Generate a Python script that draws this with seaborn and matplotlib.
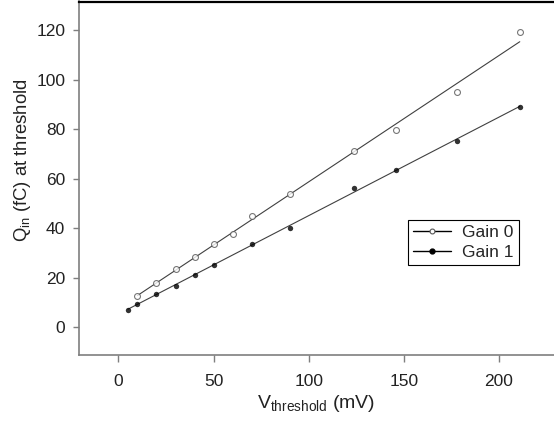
import numpy as np
import seaborn as sns
import matplotlib.pyplot as plt
from matplotlib.lines import Line2D

sns.set_style('white')
plt.rcParams['font.family'] = ['Liberation Sans', 'DejaVu Sans']
plt.rcParams['mathtext.fontset'] = 'custom'
plt.rcParams['mathtext.rm'] = 'Liberation Sans'
plt.rcParams['mathtext.it'] = 'Liberation Sans'

# data
vthr_gain0 = [10, 20, 30, 40, 50, 60, 70, 90, 124, 146, 178, 211]
qin_gain0 = [12.6, 17.7, 23.6, 28.2, 33.6, 37.8, 44.9, 53.6, 71.2, 79.7, 94.8, 119.3]
vthr_gain1 = [5, 10, 20, 30, 40, 50, 70, 90, 124, 146, 178, 211]
qin_gain1 = [7.1, 9.4, 13.4, 16.8, 21.1, 25.2, 33.6, 40.0, 56.4, 63.3, 75.3, 89.1]

spine_gray = '#7f7f7f'
line_col = '#404040'
text_col = '#222222'

fig = plt.figure(figsize=(5.54, 4.22), dpi=100)
ax = fig.add_axes([78.5 / 554, (422 - 354.5) / 422, 1 - 78.5 / 554, (354.5 - 1.5) / 422])

sns.regplot(x=np.array(vthr_gain0), y=np.array(qin_gain0), ax=ax, ci=None,
            scatter_kws=dict(s=18, facecolor='white', edgecolor='#555555',
                             linewidths=0.8, zorder=3),
            line_kws=dict(color=line_col, lw=0.8, zorder=2))
sns.regplot(x=np.array(vthr_gain1), y=np.array(qin_gain1), ax=ax, ci=None,
            scatter_kws=dict(s=15, color='black', linewidths=0, zorder=3),
            line_kws=dict(color=line_col, lw=0.8, zorder=2))

ax.set_xlim(-21, 229)
ax.set_ylim(-11, 131.5)
ax.set_xticks([0, 50, 100, 150, 200])
ax.set_yticks([0, 20, 40, 60, 80, 100, 120])

for side in ['left', 'bottom']:
    ax.spines[side].set_color(spine_gray)
    ax.spines[side].set_linewidth(1.2)
ax.spines['top'].set_color('black')
ax.spines['top'].set_linewidth(1.6)
ax.spines['right'].set_visible(False)

ax.tick_params(axis='both', direction='out', width=1, color=spine_gray,
               labelsize=12.5, labelcolor=text_col)
ax.tick_params(axis='x', bottom=True, length=5, pad=9)
ax.tick_params(axis='y', left=True, length=4.5, pad=5)

ax.set_xlabel(r'V$_{\mathregular{threshold}}$ (mV)', fontsize=14,
              color=text_col, labelpad=3)
ax.set_ylabel(r'Q$_{\mathregular{in}}$ (fC) at threshold', fontsize=13.3,
              color=text_col)
ax.yaxis.set_label_coords(-0.096, 0.55)

handles = [
    Line2D([0], [0], color='black', lw=1, marker='o', markersize=3.5,
           markerfacecolor='white', markeredgecolor='#555555', markeredgewidth=0.8),
    Line2D([0], [0], color='black', lw=1, marker='o', markersize=3.5,
           markerfacecolor='black', markeredgecolor='black'),
]
leg = ax.legend(handles, ['Gain 0', 'Gain 1'], loc='upper left',
                bbox_to_anchor=(408 / 554, 1 - 220 / 422),
                bbox_transform=fig.transFigure, fontsize=12.5,
                frameon=True, fancybox=False, edgecolor='black',
                framealpha=1, borderpad=0.3, handlelength=2.2,
                handletextpad=0.6, labelspacing=0.25, borderaxespad=0)
leg.get_frame().set_linewidth(0.8)

fig.savefig('out.png', dpi=100)
